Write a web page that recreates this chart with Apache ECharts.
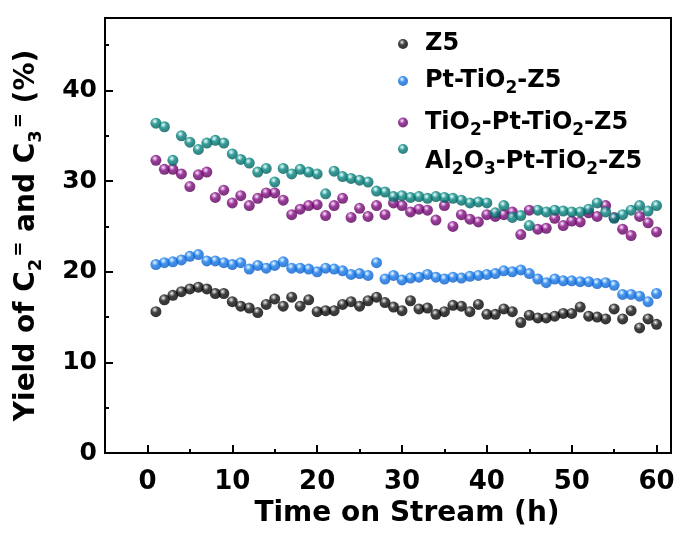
<!DOCTYPE html>
<html>
<head>
<meta charset="utf-8">
<script src="https://cdn.jsdelivr.net/npm/echarts@6/dist/echarts.min.js"></script>
<style>
  html, body { margin: 0; padding: 0; background: #fff; }
  #chart { width: 691px; height: 534px; }
</style>
</head>
<body>
<div id="chart"></div>
<script>
// Time on stream (h)
const hours = [1,2,3,4,5,6,7,8,9,10,11,12,13,14,15,16,17,18,19,20,
  21,22,23,24,25,26,27,28,29,30,31,32,33,34,35,36,37,38,39,40,
  41,42,43,44,45,46,47,48,49,50,51,52,53,54,55,56,57,58,59,60];

// Yield of C2= and C3= (%) for each catalyst
const yieldZ5 = [15.6,16.9,17.4,17.8,18.1,18.3,18.1,17.6,17.6,16.7,16.2,16.0,15.5,16.4,17.0,16.2,17.2,16.2,16.9,15.6,
  15.7,15.7,16.4,16.7,16.2,16.8,17.2,16.6,16.1,15.7,16.8,15.9,16.0,15.3,15.6,16.3,16.2,15.6,16.4,15.3,
  15.3,15.9,15.6,14.4,15.2,14.9,14.9,15.1,15.4,15.4,16.1,15.1,15.0,14.8,15.9,14.8,15.7,13.8,14.8,14.2];

const yieldPtTiO2 = [20.8,21.0,21.1,21.3,21.7,21.9,21.2,21.2,21.0,20.8,21.0,20.3,20.7,20.4,20.7,21.1,20.4,20.4,20.3,20.0,
  20.4,20.3,20.1,19.7,19.8,19.6,21.0,19.2,19.6,19.1,19.3,19.4,19.7,19.4,19.2,19.4,19.3,19.5,19.6,19.7,
  19.8,20.1,20.0,20.2,19.8,19.2,18.8,19.2,19.0,19.0,18.9,18.9,18.7,18.8,18.5,17.5,17.5,17.3,16.7,17.6];

const yieldTiO2PtTiO2 = [32.3,31.3,31.3,30.8,29.4,30.7,31.0,28.2,29.0,27.6,28.4,27.3,28.1,28.7,28.7,27.9,26.3,26.9,27.3,27.4,
  26.2,27.3,28.1,26.0,27.0,26.1,27.3,26.3,27.6,27.3,26.6,26.9,26.8,25.7,27.3,25.0,26.3,25.8,25.5,26.3,
  26.1,26.3,26.6,24.1,26.8,24.7,24.8,25.9,25.1,25.6,25.5,26.5,26.1,27.3,26.0,24.7,24.0,26.1,25.4,24.4];

const yieldAl2O3PtTiO2 = [36.4,36.0,32.3,35.0,34.3,33.5,34.2,34.5,34.2,33.0,32.4,32.0,31.0,31.4,29.9,31.4,30.8,31.3,31.0,30.8,
  28.6,31.1,30.5,30.3,30.1,29.9,28.9,28.8,28.3,28.4,28.2,28.3,28.1,28.3,28.2,28.1,27.9,27.6,27.7,27.6,
  26.5,27.3,26.0,26.2,25.1,26.8,26.6,26.8,26.7,26.6,26.6,26.9,27.6,26.6,25.9,26.3,26.8,27.3,26.7,27.3];

// Axis ticks
const xMajorTicks = [0,10,20,30,40,50,60];
const xMinorTicks = [5,15,25,35,45,55];
const yMajorTicks = [0,10,20,30,40];
const yMinorTicks = [5,15,25,35,45];

const FONT = 'DejaVu Sans';
const X_MIN = -5, X_MAX = 61.7, Y_MIN = 0, Y_MAX = 48;

// Shaded ball fill for the markers
function ball(light, base, dark) {
  return {
    type: 'radial', x: 0.4, y: 0.33, r: 0.68,
    colorStops: [
      { offset: 0, color: '#ffffff' },
      { offset: 0.12, color: light },
      { offset: 0.42, color: base },
      { offset: 1, color: dark }
    ]
  };
}

const seriesDefs = [
  { name: 'Z5', label: 'Z5', data: yieldZ5, fill: ball('#a8a8a8', '#101010', '#000000') },
  { name: 'Pt-TiO2-Z5', label: 'Pt-TiO{s|2}-Z5', data: yieldPtTiO2, fill: ball('#a8d4ff', '#1477e6', '#0a5cc8') },
  { name: 'TiO2-Pt-TiO2-Z5', label: 'TiO{s|2}-Pt-TiO{s|2}-Z5', data: yieldTiO2PtTiO2, fill: ball('#dca0dc', '#800a80', '#560056') },
  { name: 'Al2O3-Pt-TiO2-Z5', label: 'Al{s|2}O{s|3}-Pt-TiO{s|2}-Z5', data: yieldAl2O3PtTiO2, fill: ball('#a8e0de', '#048480', '#005a58') }
];

const labelOf = {};
seriesDefs.forEach(d => { labelOf[d.name] = d.label; });

const subRich = {
  s: { fontFamily: FONT, fontWeight: 'bold', fontSize: 17, color: '#000', padding: [16, 0, 0, 0] }
};

const legendBase = {
  orient: 'vertical',
  left: 393,
  itemWidth: 34,
  itemHeight: 10,
  itemGap: 13,
  icon: 'circle',
  formatter: name => labelOf[name],
  textStyle: { fontFamily: FONT, fontWeight: 'bold', fontSize: 24, color: '#000', rich: subRich }
};

const chart = echarts.init(document.getElementById('chart'), null, { renderer: 'canvas' });

chart.setOption({
  backgroundColor: '#ffffff',
  animation: false,
  grid: {
    left: 105, right: 20, top: 18, bottom: 81,
    show: true, borderColor: '#000', borderWidth: 2, backgroundColor: 'transparent'
  },
  legend: [
    Object.assign({}, legendBase, { top: 27, data: seriesDefs.slice(0, 3).map(d => d.name) }),
    Object.assign({}, legendBase, {
      top: 139,
      data: [seriesDefs[3].name],
      textStyle: Object.assign({}, legendBase.textStyle, { padding: [26, 0, 0, 0] })
    })
  ],
  xAxis: [
    {
      type: 'value', min: X_MIN, max: X_MAX,
      name: 'Time on Stream (h)', nameLocation: 'middle', nameGap: 43,
      nameTextStyle: { fontFamily: FONT, fontWeight: 'bold', fontSize: 28, color: '#000', padding: [0, 0, 0, 38] },
      axisLine: { show: true, onZero: false, lineStyle: { color: '#000', width: 2 } },
      axisTick: { show: true, inside: true, length: 8, customValues: xMajorTicks, lineStyle: { color: '#000', width: 2 } },
      axisLabel: { customValues: xMajorTicks, margin: 16, fontFamily: FONT, fontWeight: 'bold', fontSize: 26, color: '#000' },
      splitLine: { show: false }
    },
    {
      type: 'value', min: X_MIN, max: X_MAX, position: 'bottom',
      axisLine: { show: false, onZero: false },
      axisTick: { show: true, inside: true, length: 4, customValues: xMinorTicks, lineStyle: { color: '#000', width: 2 } },
      axisLabel: { show: false },
      splitLine: { show: false }
    }
  ],
  yAxis: [
    {
      type: 'value', min: Y_MIN, max: Y_MAX,
      name: 'Yield of C{s|2}{u|=} and C{s|3}{u|=} (%)', nameLocation: 'middle', nameGap: 60, nameRotate: 90,
      nameTextStyle: {
        fontFamily: FONT, fontWeight: 'bold', fontSize: 28, color: '#000',
        rich: {
          s: { fontFamily: FONT, fontWeight: 'bold', fontSize: 18, color: '#000', padding: [18, 0, 0, 0] },
          u: { fontFamily: FONT, fontWeight: 'bold', fontSize: 18, color: '#000', padding: [0, 0, 16, 2] }
        }
      },
      axisLine: { show: true, onZero: false, lineStyle: { color: '#000', width: 2 } },
      axisTick: { show: true, inside: true, length: 8, customValues: yMajorTicks, lineStyle: { color: '#000', width: 2 } },
      axisLabel: { customValues: yMajorTicks, margin: 8, fontFamily: FONT, fontWeight: 'bold', fontSize: 25, color: '#000' },
      splitLine: { show: false }
    },
    {
      type: 'value', min: Y_MIN, max: Y_MAX, position: 'left',
      axisLine: { show: false, onZero: false },
      axisTick: { show: true, inside: true, length: 4, customValues: yMinorTicks, lineStyle: { color: '#000', width: 2 } },
      axisLabel: { show: false },
      splitLine: { show: false }
    }
  ],
  series: seriesDefs.map(d => ({
    name: d.name,
    type: 'scatter',
    xAxisIndex: 0,
    yAxisIndex: 0,
    symbol: 'circle',
    symbolSize: 11,
    itemStyle: { color: d.fill },
    data: hours.map((h, i) => [h, d.data[i]])
  }))
});
</script>
</body>
</html>
